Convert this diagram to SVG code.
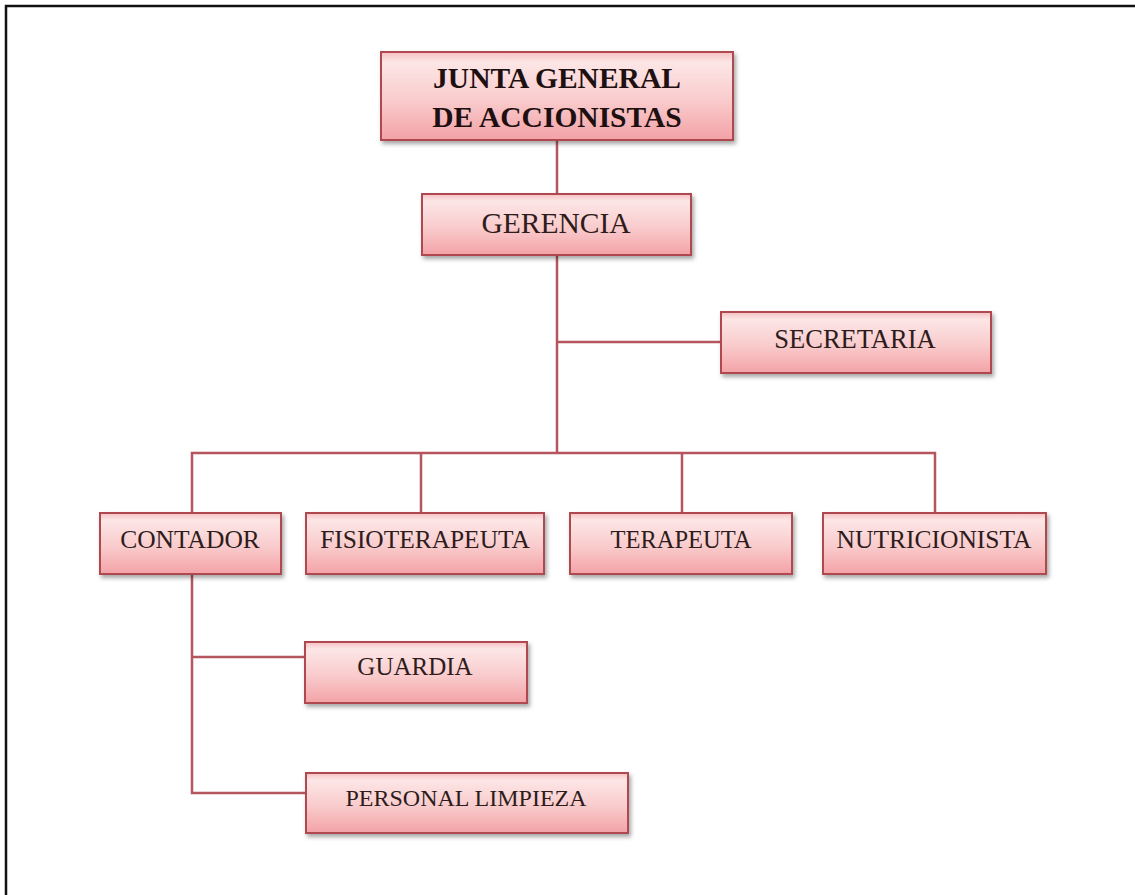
<svg xmlns="http://www.w3.org/2000/svg" width="1135" height="895" viewBox="0 0 1135 895">
<style>
.box{fill:url(#g);stroke:#b04850;stroke-width:2;filter:url(#sh)}
.lbl{font-family:"Liberation Serif","Times New Roman",serif;fill:#2e1c1c;text-anchor:middle;font-size:25px}
.big{font-size:29.5px;font-weight:bold;fill:#1e1010}
.con{fill:none;stroke:#b5565e;stroke-width:2.5}
</style>
<defs>
<linearGradient id="g" x1="0" y1="0" x2="0" y2="1">
<stop offset="0" stop-color="#f6c0c2"/>
<stop offset="0.12" stop-color="#fde6e6"/>
<stop offset="0.55" stop-color="#f9cbcc"/>
<stop offset="1" stop-color="#f3a2a7"/>
</linearGradient>
<filter id="sh" x="-10%" y="-20%" width="120%" height="150%">
<feDropShadow dx="2" dy="3" stdDeviation="2" flood-color="#000" flood-opacity="0.35"/>
</filter>
</defs>
<rect width="1135" height="895" fill="#fff"/>
<path d="M6,900 V6 H1140" fill="none" stroke="#111" stroke-width="2.5"/>
<g id="connectors">
<path class="con" d="M557,140 V194"/>
<path class="con" d="M557,255 V453"/>
<path class="con" d="M557,342 H721"/>
<path class="con" d="M192,513 V453 H935 V513"/>
<path class="con" d="M421,453 V513"/>
<path class="con" d="M682,453 V513"/>
<path class="con" d="M192,574 V793 H306"/>
<path class="con" d="M192,657 H305"/>
</g>
<g id="junta">
<rect class="box" x="381" y="52" width="352" height="88"/>
<text class="lbl big" x="557" y="88">JUNTA GENERAL</text>
<text class="lbl big" x="557" y="127">DE ACCIONISTAS</text>
</g>
<g id="gerencia">
<rect class="box" x="422" y="194" width="269" height="61"/>
<text class="lbl" x="556" y="233" style="font-size:29.5px">GERENCIA</text>
</g>
<g id="secretaria">
<rect class="box" x="721" y="312" width="270" height="61"/>
<text class="lbl" x="855" y="348" style="font-size:26.5px">SECRETARIA</text>
</g>
<g id="contador">
<rect class="box" x="100" y="513" width="181" height="61"/>
<text class="lbl" x="190" y="548" style="font-size:25.5px">CONTADOR</text>
</g>
<g id="fisioterapeuta">
<rect class="box" x="306" y="513" width="238" height="61"/>
<text class="lbl" x="425" y="548" style="font-size:25.4px">FISIOTERAPEUTA</text>
</g>
<g id="terapeuta">
<rect class="box" x="570" y="513" width="222" height="61"/>
<text class="lbl" x="681" y="548" style="font-size:24.5px">TERAPEUTA</text>
</g>
<g id="nutricionista">
<rect class="box" x="823" y="513" width="223" height="61"/>
<text class="lbl" x="934" y="548" style="font-size:25.5px">NUTRICIONISTA</text>
</g>
<g id="guardia">
<rect class="box" x="305" y="642" width="222" height="61"/>
<text class="lbl" x="415" y="675">GUARDIA</text>
</g>
<g id="personal">
<rect class="box" x="306" y="773" width="322" height="60"/>
<text class="lbl" x="466" y="806" style="font-size:24px">PERSONAL LIMPIEZA</text>
</g>
</svg>
